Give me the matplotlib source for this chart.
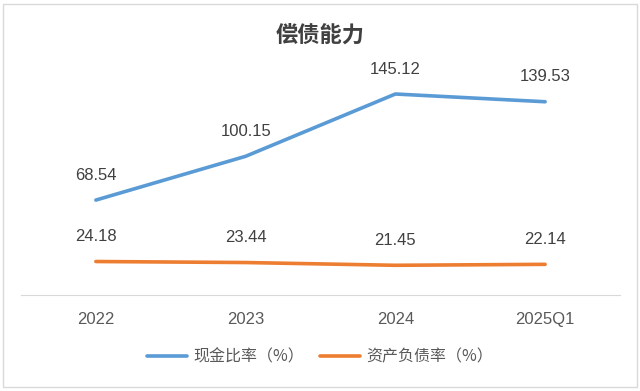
import matplotlib.pyplot as plt
from matplotlib.patches import FancyBboxPatch

plt.rcParams['font.family'] = ['Noto Sans CJK SC', 'DejaVu Sans']

categories = ["2022", "2023", "2024", "2025Q1"]
cash_ratio = [68.54, 100.15, 145.12, 139.53]
debt_ratio = [24.18, 23.44, 21.45, 22.14]
series_names = ["现金比率（%）", "资产负债率（%）"]
colors = ["#5B9BD5", "#ED7D31"]

fig = plt.figure(figsize=(6.4, 3.91), dpi=100)
ax = fig.add_axes([21 / 640, 1 - 295 / 391, 599 / 640, (295 - 73.4) / 391])

x = range(len(categories))
for vals, name, c in zip([cash_ratio, debt_ratio], series_names, colors):
    ax.plot(x, vals, color=c, lw=2.6, label=name, solid_capstyle='round')
    for xi, v in zip(x, vals):
        ax.annotate(f"{v:.2f}", (xi, v), xytext=(0, 18), textcoords="offset points",
                    ha="center", va="center", fontsize=12, color="#404040",
                    family="Liberation Sans")

ax.set_xlim(-0.5, 3.5)
ax.set_ylim(0, 160)
ax.set_xticks(list(x))
ax.set_xticklabels(categories, fontsize=12, color="#595959", family="Liberation Sans")
ax.tick_params(axis='x', length=0, pad=12)
ax.set_yticks([])
for s in ["top", "right", "left"]:
    ax.spines[s].set_visible(False)
ax.spines["bottom"].set_color("#D9D9D9")
ax.patch.set_alpha(0)

fig.text(0.5, 1 - 35 / 391, "偿债能力", ha="center", va="center",
         fontsize=16, fontweight="bold", color="#404040")

handles, labels = ax.get_legend_handles_labels()
fig.legend(handles, labels, loc="center", bbox_to_anchor=(0.5, 1 - 357 / 391),
           ncol=2, frameon=False, fontsize=11.5, labelcolor="#595959",
           handlelength=2.5, columnspacing=1.0, handletextpad=0.4)

border = FancyBboxPatch((3 / 640, 4 / 391), 634 / 640, 383 / 391,
                        boxstyle="square,pad=0", transform=fig.transFigure,
                        fill=False, edgecolor="#D9D9D9", lw=1)
fig.patches.append(border)

fig.savefig("out.png", dpi=100)
